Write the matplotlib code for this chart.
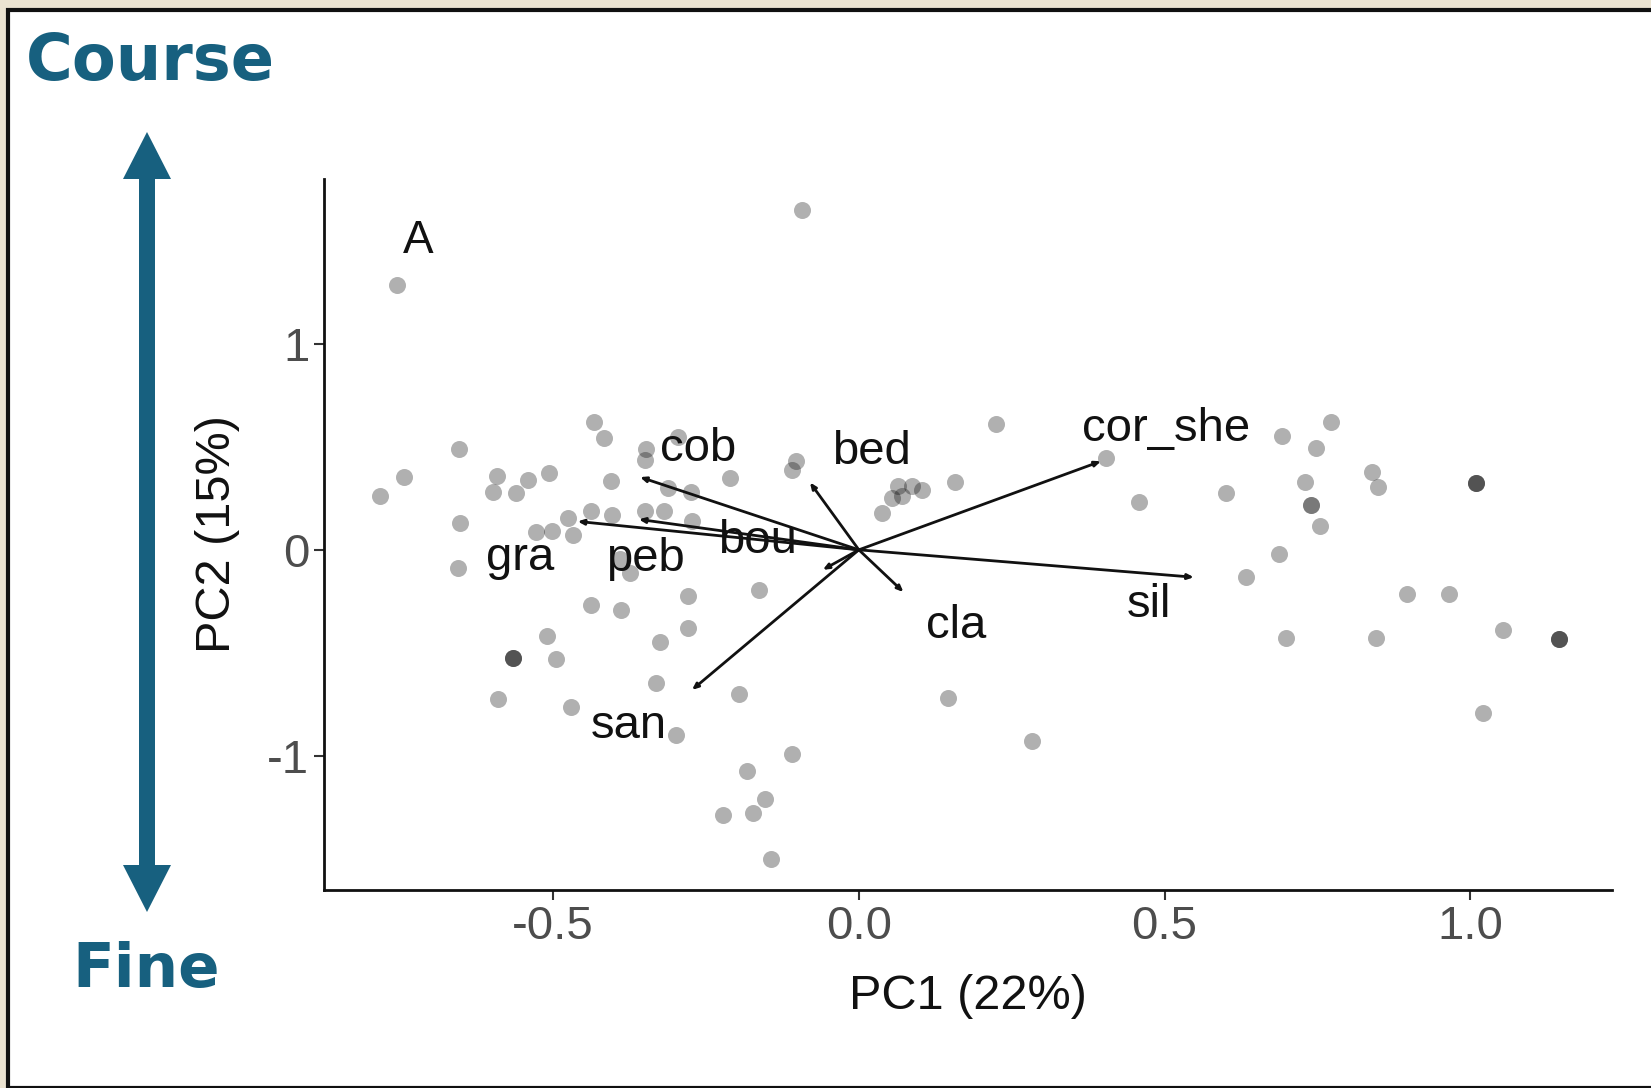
import matplotlib
matplotlib.use("Agg")
import matplotlib.pyplot as plt
from matplotlib.patches import Polygon, Rectangle

plt.rcParams['font.family'] = ['Liberation Sans', 'DejaVu Sans']
plt.rcParams['axes.unicode_minus'] = False

# site scores (PC1, PC2); darker dots are repeated sites
pc1 = [-0.093, -0.756, -0.784, -0.744, -0.654, -0.652, -0.656, -0.592, -0.599, -0.561,
       -0.542, -0.507, -0.528, -0.502, -0.476, -0.467, -0.434, -0.417, -0.405, -0.348,
       -0.349, -0.296, -0.275, -0.438, -0.403, -0.349, -0.318, -0.273, -0.374, -0.391,
       -0.211, -0.163, -0.279, -0.438, -0.389, -0.325, -0.279, -0.566, -0.566, -0.566,
       -0.510, -0.495, -0.590, -0.471, -0.332, -0.299, -0.196, -0.183, -0.109, -0.223,
       -0.173, -0.154, -0.144, -0.102, -0.109, 0.038, 0.055, 0.064, 0.071, 0.087,
       0.104, 0.157, 0.225, 0.405, 0.458, 0.145, 0.284, 0.600, 0.633, 0.687,
       0.692, 0.747, 0.773, 0.730, 0.740, 0.740, 0.754, 0.699, 0.839, 0.849,
       0.896, 0.965, 0.846, 1.009, 1.009, 1.009, 1.054, 1.021, 1.145, 1.145,
       1.145, -0.313]
pc2 = [1.647, 1.284, 0.261, 0.353, 0.491, 0.128, -0.087, 0.358, 0.281, 0.276,
       0.338, 0.373, 0.087, 0.092, 0.153, 0.072, 0.619, 0.542, 0.332, 0.491,
       0.435, 0.547, 0.281, 0.189, 0.169, 0.189, 0.189, 0.138, -0.113, -0.046,
       0.348, -0.194, -0.225, -0.266, -0.292, -0.445, -0.379, -0.527, -0.527, -0.527,
       -0.419, -0.532, -0.726, -0.762, -0.645, -0.900, -0.701, -1.074, -0.992, -1.289,
       -1.279, -1.207, -1.499, 0.430, 0.389, 0.179, 0.251, 0.312, 0.261, 0.312,
       0.292, 0.327, 0.609, 0.445, 0.230, -0.721, -0.926, 0.276, -0.133, -0.020,
       0.552, 0.496, 0.619, 0.327, 0.220, 0.220, 0.118, -0.430, 0.379, 0.307,
       -0.215, -0.215, -0.430, 0.322, 0.322, 0.322, -0.389, -0.793, -0.435, -0.435,
       -0.435, 0.301]

# variable loadings (arrow tips)
var_names = ["cor_she", "sil", "cla", "bed", "cob", "gra", "bou", "peb", "san"]
load_x = [0.396, 0.548, 0.073, -0.080, -0.358, -0.460, -0.360, -0.059, -0.273]
load_y = [0.430, -0.133, -0.205, 0.327, 0.353, 0.138, 0.148, -0.097, -0.680]
# where each name is written
label_x = [0.502, 0.474, 0.159, 0.021, -0.263, -0.554, -0.166, -0.349, -0.377]
label_y = [0.588, -0.266, -0.368, 0.476, 0.491, -0.041, 0.041, -0.046, -0.854]

fig = plt.figure(figsize=(16.51, 10.88), dpi=100)
fig.patch.set_facecolor("#ebe3d1")
fig.patches.append(Rectangle((8, 0), 1800, 1078, transform=None, facecolor="white",
                             edgecolor="#111111", linewidth=3, zorder=-5))

ax = fig.add_axes([0.1962, 0.182, 0.7802, 0.6535])
ax.set_facecolor("white")
ax.scatter(pc1, pc2, s=150, color="black", alpha=0.31, linewidths=0, zorder=2)

for name, lx, ly, tx, ty in zip(var_names, load_x, load_y, label_x, label_y):
    ax.annotate("", xy=(lx, ly), xytext=(0, 0),
                arrowprops=dict(arrowstyle="-|>,head_length=0.35,head_width=0.15",
                                color="#111111", lw=2.0, shrinkA=0, shrinkB=0), zorder=3)
    ax.text(tx, ty, name, fontsize=34, color="#111111", ha="center", va="center", zorder=4)

ax.text(-0.720, 1.499, "A", fontsize=33, color="#111111", ha="center", va="center")

ax.set_xlim(-0.875, 1.232)
ax.set_ylim(-1.651, 1.80)
ax.set_xticks([-0.5, 0.0, 0.5, 1.0])
ax.set_xticklabels(["-0.5", "0.0", "0.5", "1.0"])
ax.set_yticks([-1, 0, 1])
ax.set_yticklabels(["-1", "0", "1"])
ax.tick_params(labelsize=34, labelcolor="#4d4d4d", length=7, width=1.5, color="#333333")
for side in ["top", "right"]:
    ax.spines[side].set_visible(False)
for side in ["left", "bottom"]:
    ax.spines[side].set_linewidth(2)
    ax.spines[side].set_color("#111111")
ax.set_xlabel("PC1 (22%)", fontsize=35, color="#111111", labelpad=18)
ax.set_ylabel("PC2 (15%)", fontsize=35, color="#111111", labelpad=20)

# coarse / fine double arrow, in pixels
blue = "#17607f"
cx, top, bot = 147, 1088 - 132, 1088 - 912
hw, hl, sw = 24, 47, 8
shape = [(cx, top), (cx + hw, top - hl), (cx + sw, top - hl), (cx + sw, bot + hl),
         (cx + hw, bot + hl), (cx, bot), (cx - hw, bot + hl), (cx - sw, bot + hl),
         (cx - sw, top - hl), (cx - hw, top - hl)]
fig.patches.append(Polygon(shape, closed=True, transform=None, facecolor=blue,
                           edgecolor="none"))
fig.text(150 / 1651, 1 - 62 / 1088, "Course", fontsize=46, fontweight="bold",
         color=blue, ha="center", va="center", family="DejaVu Sans")
fig.text(146 / 1651, 1 - 970 / 1088, "Fine", fontsize=44, fontweight="bold",
         color=blue, ha="center", va="center", family="DejaVu Sans")

fig.savefig("out.png", dpi=100, facecolor=fig.get_facecolor())
